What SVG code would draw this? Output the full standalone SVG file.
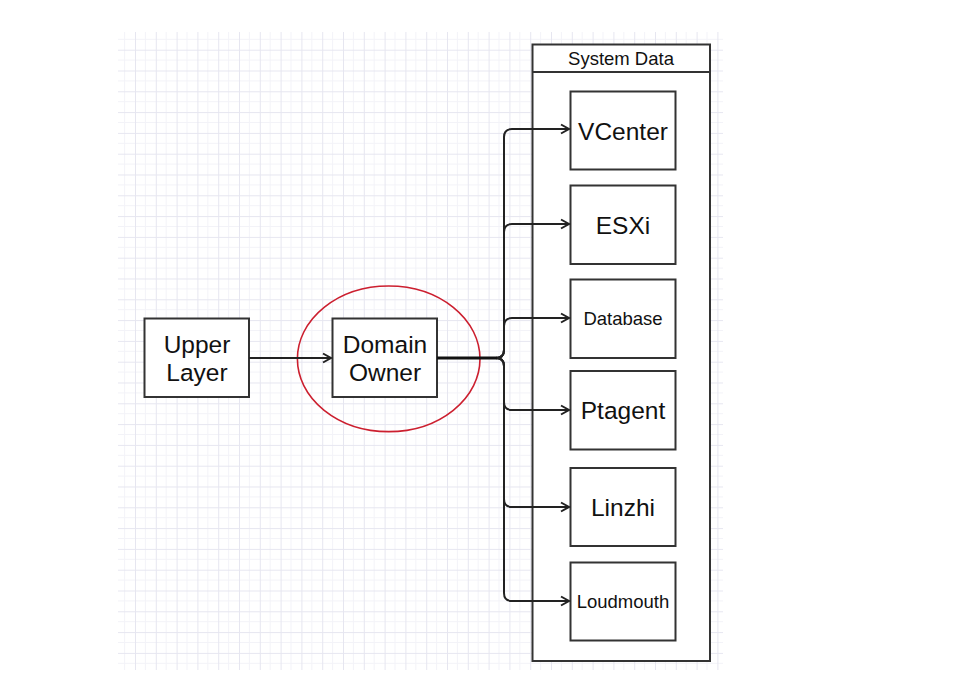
<svg xmlns="http://www.w3.org/2000/svg" width="957" height="682" viewBox="0 0 957 682">
<defs>
<pattern id="grid" patternUnits="userSpaceOnUse" x="135" y="49.7" width="20.8" height="20.8">
<path d="M10.4 0V20.8M0 10.4H20.8" stroke="#f3f3f8" stroke-width="1" fill="none"/>
<path d="M0.5 0V20.8M0 0.5H20.8" stroke="#e6e6f0" stroke-width="1" fill="none"/>
</pattern>
<marker id="arr" markerUnits="userSpaceOnUse" markerWidth="14" markerHeight="14" refX="11" refY="7" orient="auto">
<path d="M3 2.5L11 7L3 11.5" fill="none" stroke="#222" stroke-width="2" stroke-linejoin="miter"/>
</marker>
</defs>
<style>
.box{fill:#fff;stroke:#333;stroke-width:2}
.lbl{font-family:"Liberation Sans",Arial,sans-serif;fill:#111;text-anchor:middle}
.big{font-size:24.5px}
.small{font-size:18.5px}
.edge{fill:none;stroke:#222;stroke-width:2}
</style>
<rect x="0" y="0" width="957" height="682" fill="#fff"/>
<rect x="118" y="32" width="605" height="638" fill="url(#grid)"/>

<g id="system-data">
<rect class="box" x="532.5" y="44.5" width="177.5" height="616.5"/>
<line x1="532.5" y1="72" x2="710" y2="72" stroke="#333" stroke-width="2"/>
<text class="lbl small" x="621" y="64.5">System Data</text>
</g>

<g id="upper-layer">
<rect class="box" x="144.5" y="318.5" width="104.5" height="78.5"/>
<text class="lbl big" x="197" y="353.3">Upper</text>
<text class="lbl big" x="197" y="380.6">Layer</text>
</g>

<g id="domain-owner">
<rect class="box" x="332.5" y="318.5" width="104.5" height="78.5"/>
<text class="lbl big" x="385" y="353.3">Domain</text>
<text class="lbl big" x="385" y="380.6">Owner</text>
</g>

<g id="highlight">
<ellipse cx="388.7" cy="358.8" rx="91.3" ry="72.8" fill="none" stroke="#cc1f2f" stroke-width="1.6"/>
</g>

<g id="vcenter">
<rect class="box" x="570.5" y="91.5" width="105" height="78"/>
<text class="lbl big" x="623" y="139.5">VCenter</text>
</g>
<g id="esxi">
<rect class="box" x="570.5" y="185.5" width="105" height="78.5"/>
<text class="lbl big" x="623" y="233.5">ESXi</text>
</g>
<g id="database">
<rect class="box" x="570.5" y="279.5" width="105" height="78.5"/>
<text class="lbl small" x="623" y="325">Database</text>
</g>
<g id="ptagent">
<rect class="box" x="570.5" y="371" width="105" height="78.5"/>
<text class="lbl big" x="623" y="419">Ptagent</text>
</g>
<g id="linzhi">
<rect class="box" x="570.5" y="468" width="105" height="78"/>
<text class="lbl big" x="623" y="515.5">Linzhi</text>
</g>
<g id="loudmouth">
<rect class="box" x="570.5" y="562.5" width="105" height="78"/>
<text class="lbl small" x="623" y="608">Loudmouth</text>
</g>

<g id="connectors">
<path class="edge" marker-end="url(#arr)" d="M249 358H331"/>
<path class="edge" marker-end="url(#arr)" d="M437 358H496Q504 358 504 350V137Q504 129 512 129H569"/>
<path class="edge" marker-end="url(#arr)" d="M437 358H496Q504 358 504 350V232Q504 224 512 224H569"/>
<path class="edge" marker-end="url(#arr)" d="M437 358H496Q504 358 504 350V326Q504 318 512 318H569"/>
<path class="edge" marker-end="url(#arr)" d="M437 358H496Q504 358 504 366V402Q504 410 512 410H569"/>
<path class="edge" marker-end="url(#arr)" d="M437 358H496Q504 358 504 366V499Q504 507 512 507H569"/>
<path class="edge" marker-end="url(#arr)" d="M437 358H496Q504 358 504 366V593Q504 601 512 601H569"/>
<path d="M437 358H497" fill="none" stroke="#111" stroke-width="3"/>
</g>
</svg>
